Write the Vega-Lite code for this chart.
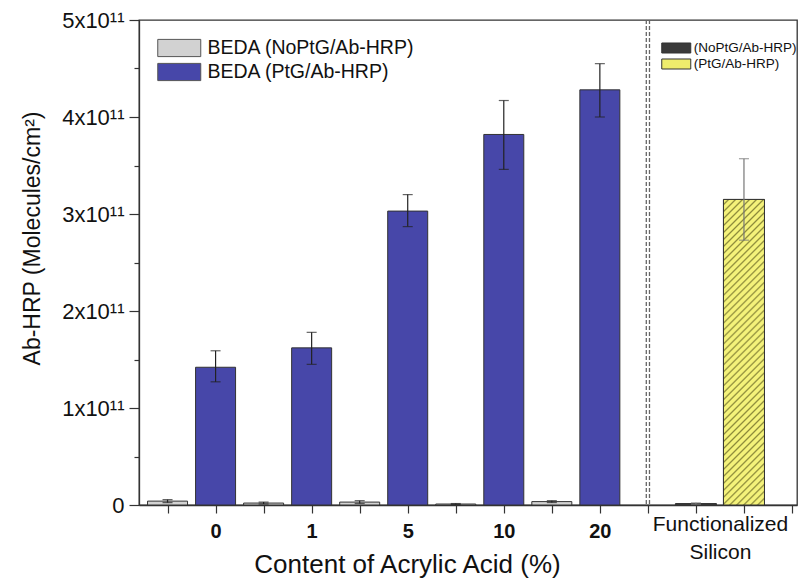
{
  "$schema": "https://vega.github.io/schema/vega-lite/v6.json",
  "width": 658,
  "height": 485,
  "autosize": {"type": "none"},
  "padding": {"left": 139, "top": 20, "right": 5, "bottom": 74},
  "background": "white",
  "config": {
    "font": "Liberation Sans",
    "view": {"stroke": "#333", "strokeWidth": 1.3},
    "axis": {"grid": false, "domainColor": "#333", "tickColor": "#333", "labelColor": "#111", "titleColor": "#111", "domainWidth": 1.3, "tickWidth": 1.2}
  },
  "datasets": {
    "beda": [
      {"pos": 0, "series": "BEDA (NoPtG/Ab-HRP)", "value": 4e9, "lo": 2.5e9, "hi": 5.5e9},
      {"pos": 1, "series": "BEDA (PtG/Ab-HRP)", "value": 1.42e11, "lo": 1.27e11, "hi": 1.59e11},
      {"pos": 2, "series": "BEDA (NoPtG/Ab-HRP)", "value": 2e9, "lo": 1e9, "hi": 3e9},
      {"pos": 3, "series": "BEDA (PtG/Ab-HRP)", "value": 1.62e11, "lo": 1.45e11, "hi": 1.78e11},
      {"pos": 4, "series": "BEDA (NoPtG/Ab-HRP)", "value": 3e9, "lo": 1.5e9, "hi": 4.5e9},
      {"pos": 5, "series": "BEDA (PtG/Ab-HRP)", "value": 3.03e11, "lo": 2.87e11, "hi": 3.2e11},
      {"pos": 6, "series": "BEDA (NoPtG/Ab-HRP)", "value": 1e9, "lo": 0.5e9, "hi": 1.5e9},
      {"pos": 7, "series": "BEDA (PtG/Ab-HRP)", "value": 3.82e11, "lo": 3.46e11, "hi": 4.17e11},
      {"pos": 8, "series": "BEDA (NoPtG/Ab-HRP)", "value": 3.5e9, "lo": 2.5e9, "hi": 4.5e9},
      {"pos": 9, "series": "BEDA (PtG/Ab-HRP)", "value": 4.28e11, "lo": 4.0e11, "hi": 4.55e11}
    ],
    "silicon": [
      {"pos": 11, "series": "(NoPtG/Ab-HRP)", "value": 1.5e9, "lo": 0.8e9, "hi": 2.2e9},
      {"pos": 12, "series": "(PtG/Ab-HRP)", "value": 3.15e11, "lo": 2.73e11, "hi": 3.57e11}
    ]
  },
  "layer": [
    {
      "data": {"name": "beda"},
      "mark": {"type": "bar", "size": 40, "stroke": "#333", "strokeWidth": 1},
      "encoding": {
        "x": {
          "field": "pos", "type": "quantitative", "title": "Content of Acrylic Acid (%)",
          "scale": {"domain": [-0.49, 13], "nice": false, "zero": false},
          "axis": {
            "values": [0, 1, 2, 3, 4, 5, 6, 7, 8, 9, 10, 11, 11.5, 12, 13],
            "labelExpr": "datum.value == 1 ? '0' : datum.value == 3 ? '1' : datum.value == 5 ? '5' : datum.value == 7 ? '10' : datum.value == 9 ? '20' : datum.value == 11.5 ? ['Functionalized', 'Silicon'] : ''",
            "labelOverlap": false, "labelFlush": false, "labelBound": false,
            "labelFontSize": {"condition": {"test": "datum.value == 11.5", "value": 21}, "value": 20},
            "labelFontWeight": {"condition": {"test": "datum.value == 11.5", "value": "normal"}, "value": "bold"},
            "labelLineHeight": 28,
            "labelPadding": 8,
            "tickSize": {"condition": {"test": "datum.value == 11.5", "value": 0}, "value": 8},
            "titleFontSize": 26, "titleFontWeight": "normal",
            "titleX": 268, "titleY": 67, "titleAlign": "center", "titleBaseline": "alphabetic"
          }
        },
        "y": {
          "field": "value", "type": "quantitative", "title": "Ab-HRP (Molecules/cm²)",
          "scale": {"domain": [0, 5e11], "nice": false},
          "axis": {
            "values": [0, 5e10, 1e11, 1.5e11, 2e11, 2.5e11, 3e11, 3.5e11, 4e11, 4.5e11, 5e11],
            "labelExpr": "datum.value % 1e11 != 0 ? '' : datum.value == 0 ? '0' : format(datum.value / 1e11, 'd') + 'x10¹¹'",
            "labelFontSize": 22, "labelPadding": 5,
            "tickSize": {"condition": {"test": "datum.value % 1e11 != 0", "value": 5}, "value": 10},
            "titleFontSize": 23, "titleFontWeight": "normal",
            "titleAngle": -90, "titleX": -100, "titleY": 218, "titleAlign": "center", "titleBaseline": "alphabetic"
          }
        },
        "color": {
          "field": "series", "type": "nominal",
          "scale": {"domain": ["BEDA (NoPtG/Ab-HRP)", "BEDA (PtG/Ab-HRP)"], "range": ["#d2d2d2", "#4747a9"]},
          "legend": {
            "orient": "none", "legendX": 28.75, "legendY": 16.5, "title": null,
            "symbolType": "M-2,-0.8H2V0.8H-2Z", "symbolSize": 462.25,
            "symbolStrokeColor": "#555", "symbolStrokeWidth": 1, "symbolOpacity": 1,
            "labelFontSize": 19.5, "labelColor": "#111", "labelOffset": 16.75, "labelLimit": 0, "rowPadding": 1
          }
        }
      }
    },
    {
      "data": {"name": "silicon"},
      "mark": {"type": "bar", "size": 41, "stroke": "#333", "strokeWidth": 1},
      "encoding": {
        "x": {"field": "pos", "type": "quantitative", "title": "Content of Acrylic Acid (%)"},
        "y": {"field": "value", "type": "quantitative", "title": "Ab-HRP (Molecules/cm²)"},
        "fill": {
          "field": "series", "type": "nominal",
          "scale": {"domain": ["(NoPtG/Ab-HRP)", "(PtG/Ab-HRP)"], "range": ["#3a3a3a", "#eeec6c"]},
          "legend": {
            "orient": "none", "legendX": 529.25, "legendY": 20, "title": null,
            "symbolType": "M-2,-0.69H2V0.69H-2Z", "symbolSize": 210.25,
            "symbolStrokeColor": "#333", "symbolStrokeWidth": 1, "symbolOpacity": 1,
            "labelFontSize": 13.5, "labelColor": "#111", "labelOffset": 9.5, "labelLimit": 0, "rowPadding": -2
          }
        }
      }
    },
    {
      "data": {"name": "silicon"},
      "transform": [{"filter": "datum.pos == 12"}],
      "mark": {
        "type": "bar", "size": 41, "stroke": "#333", "strokeWidth": 1,
        "fill": {
          "gradient": "linear", "x1": 0, "y1": 0, "x2": 0.15, "y2": 1.12,
          "stops": [
            {"offset": 0, "color": "#f4f27a"}, {"offset": 0.01, "color": "#f4f27a"}, {"offset": 0.015, "color": "#8c8a3a"},
            {"offset": 0.02, "color": "#f4f27a"}, {"offset": 0.03, "color": "#f4f27a"}, {"offset": 0.035, "color": "#8c8a3a"},
            {"offset": 0.04, "color": "#f4f27a"}, {"offset": 0.05, "color": "#f4f27a"}, {"offset": 0.055, "color": "#8c8a3a"},
            {"offset": 0.06, "color": "#f4f27a"}, {"offset": 0.07, "color": "#f4f27a"}, {"offset": 0.075, "color": "#8c8a3a"},
            {"offset": 0.08, "color": "#f4f27a"}, {"offset": 0.09, "color": "#f4f27a"}, {"offset": 0.095, "color": "#8c8a3a"},
            {"offset": 0.10, "color": "#f4f27a"}, {"offset": 0.11, "color": "#f4f27a"}, {"offset": 0.115, "color": "#8c8a3a"},
            {"offset": 0.12, "color": "#f4f27a"}, {"offset": 0.13, "color": "#f4f27a"}, {"offset": 0.135, "color": "#8c8a3a"},
            {"offset": 0.14, "color": "#f4f27a"}, {"offset": 0.15, "color": "#f4f27a"}, {"offset": 0.155, "color": "#8c8a3a"},
            {"offset": 0.16, "color": "#f4f27a"}, {"offset": 0.17, "color": "#f4f27a"}, {"offset": 0.175, "color": "#8c8a3a"},
            {"offset": 0.18, "color": "#f4f27a"}, {"offset": 0.19, "color": "#f4f27a"}, {"offset": 0.195, "color": "#8c8a3a"},
            {"offset": 0.20, "color": "#f4f27a"}, {"offset": 0.21, "color": "#f4f27a"}, {"offset": 0.215, "color": "#8c8a3a"},
            {"offset": 0.22, "color": "#f4f27a"}, {"offset": 0.23, "color": "#f4f27a"}, {"offset": 0.235, "color": "#8c8a3a"},
            {"offset": 0.24, "color": "#f4f27a"}, {"offset": 0.25, "color": "#f4f27a"}, {"offset": 0.255, "color": "#8c8a3a"},
            {"offset": 0.26, "color": "#f4f27a"}, {"offset": 0.27, "color": "#f4f27a"}, {"offset": 0.275, "color": "#8c8a3a"},
            {"offset": 0.28, "color": "#f4f27a"}, {"offset": 0.29, "color": "#f4f27a"}, {"offset": 0.295, "color": "#8c8a3a"},
            {"offset": 0.30, "color": "#f4f27a"}, {"offset": 0.31, "color": "#f4f27a"}, {"offset": 0.315, "color": "#8c8a3a"},
            {"offset": 0.32, "color": "#f4f27a"}, {"offset": 0.33, "color": "#f4f27a"}, {"offset": 0.335, "color": "#8c8a3a"},
            {"offset": 0.34, "color": "#f4f27a"}, {"offset": 0.35, "color": "#f4f27a"}, {"offset": 0.355, "color": "#8c8a3a"},
            {"offset": 0.36, "color": "#f4f27a"}, {"offset": 0.37, "color": "#f4f27a"}, {"offset": 0.375, "color": "#8c8a3a"},
            {"offset": 0.38, "color": "#f4f27a"}, {"offset": 0.39, "color": "#f4f27a"}, {"offset": 0.395, "color": "#8c8a3a"},
            {"offset": 0.40, "color": "#f4f27a"}, {"offset": 0.41, "color": "#f4f27a"}, {"offset": 0.415, "color": "#8c8a3a"},
            {"offset": 0.42, "color": "#f4f27a"}, {"offset": 0.43, "color": "#f4f27a"}, {"offset": 0.435, "color": "#8c8a3a"},
            {"offset": 0.44, "color": "#f4f27a"}, {"offset": 0.45, "color": "#f4f27a"}, {"offset": 0.455, "color": "#8c8a3a"},
            {"offset": 0.46, "color": "#f4f27a"}, {"offset": 0.47, "color": "#f4f27a"}, {"offset": 0.475, "color": "#8c8a3a"},
            {"offset": 0.48, "color": "#f4f27a"}, {"offset": 0.49, "color": "#f4f27a"}, {"offset": 0.495, "color": "#8c8a3a"},
            {"offset": 0.50, "color": "#f4f27a"}, {"offset": 0.51, "color": "#f4f27a"}, {"offset": 0.515, "color": "#8c8a3a"},
            {"offset": 0.52, "color": "#f4f27a"}, {"offset": 0.53, "color": "#f4f27a"}, {"offset": 0.535, "color": "#8c8a3a"},
            {"offset": 0.54, "color": "#f4f27a"}, {"offset": 0.55, "color": "#f4f27a"}, {"offset": 0.555, "color": "#8c8a3a"},
            {"offset": 0.56, "color": "#f4f27a"}, {"offset": 0.57, "color": "#f4f27a"}, {"offset": 0.575, "color": "#8c8a3a"},
            {"offset": 0.58, "color": "#f4f27a"}, {"offset": 0.59, "color": "#f4f27a"}, {"offset": 0.595, "color": "#8c8a3a"},
            {"offset": 0.60, "color": "#f4f27a"}, {"offset": 0.61, "color": "#f4f27a"}, {"offset": 0.615, "color": "#8c8a3a"},
            {"offset": 0.62, "color": "#f4f27a"}, {"offset": 0.63, "color": "#f4f27a"}, {"offset": 0.635, "color": "#8c8a3a"},
            {"offset": 0.64, "color": "#f4f27a"}, {"offset": 0.65, "color": "#f4f27a"}, {"offset": 0.655, "color": "#8c8a3a"},
            {"offset": 0.66, "color": "#f4f27a"}, {"offset": 0.67, "color": "#f4f27a"}, {"offset": 0.675, "color": "#8c8a3a"},
            {"offset": 0.68, "color": "#f4f27a"}, {"offset": 0.69, "color": "#f4f27a"}, {"offset": 0.695, "color": "#8c8a3a"},
            {"offset": 0.70, "color": "#f4f27a"}, {"offset": 0.71, "color": "#f4f27a"}, {"offset": 0.715, "color": "#8c8a3a"},
            {"offset": 0.72, "color": "#f4f27a"}, {"offset": 0.73, "color": "#f4f27a"}, {"offset": 0.735, "color": "#8c8a3a"},
            {"offset": 0.74, "color": "#f4f27a"}, {"offset": 0.75, "color": "#f4f27a"}, {"offset": 0.755, "color": "#8c8a3a"},
            {"offset": 0.76, "color": "#f4f27a"}, {"offset": 0.77, "color": "#f4f27a"}, {"offset": 0.775, "color": "#8c8a3a"},
            {"offset": 0.78, "color": "#f4f27a"}, {"offset": 0.79, "color": "#f4f27a"}, {"offset": 0.795, "color": "#8c8a3a"},
            {"offset": 0.80, "color": "#f4f27a"}, {"offset": 0.81, "color": "#f4f27a"}, {"offset": 0.815, "color": "#8c8a3a"},
            {"offset": 0.82, "color": "#f4f27a"}, {"offset": 0.83, "color": "#f4f27a"}, {"offset": 0.835, "color": "#8c8a3a"},
            {"offset": 0.84, "color": "#f4f27a"}, {"offset": 0.85, "color": "#f4f27a"}, {"offset": 0.855, "color": "#8c8a3a"},
            {"offset": 0.86, "color": "#f4f27a"}, {"offset": 0.87, "color": "#f4f27a"}, {"offset": 0.875, "color": "#8c8a3a"},
            {"offset": 0.88, "color": "#f4f27a"}, {"offset": 0.89, "color": "#f4f27a"}, {"offset": 0.895, "color": "#8c8a3a"},
            {"offset": 0.90, "color": "#f4f27a"}, {"offset": 0.91, "color": "#f4f27a"}, {"offset": 0.915, "color": "#8c8a3a"},
            {"offset": 0.92, "color": "#f4f27a"}, {"offset": 0.93, "color": "#f4f27a"}, {"offset": 0.935, "color": "#8c8a3a"},
            {"offset": 0.94, "color": "#f4f27a"}, {"offset": 0.95, "color": "#f4f27a"}, {"offset": 0.955, "color": "#8c8a3a"},
            {"offset": 0.96, "color": "#f4f27a"}, {"offset": 0.97, "color": "#f4f27a"}, {"offset": 0.975, "color": "#8c8a3a"},
            {"offset": 0.98, "color": "#f4f27a"}, {"offset": 0.99, "color": "#f4f27a"}, {"offset": 0.995, "color": "#8c8a3a"},
            {"offset": 1, "color": "#f4f27a"}
          ]
        }
      },
      "encoding": {
        "x": {"field": "pos", "type": "quantitative", "title": "Content of Acrylic Acid (%)"},
        "y": {"field": "value", "type": "quantitative", "title": "Ab-HRP (Molecules/cm²)"}
      }
    },
    {
      "data": {"name": "beda"},
      "mark": {"type": "rule", "color": "#222", "strokeWidth": 1.2},
      "encoding": {
        "x": {"field": "pos", "type": "quantitative", "title": "Content of Acrylic Acid (%)"},
        "y": {"field": "lo", "type": "quantitative", "title": "Ab-HRP (Molecules/cm²)"},
        "y2": {"field": "hi"}
      }
    },
    {
      "data": {"name": "beda"},
      "mark": {"type": "tick", "orient": "horizontal", "size": 10, "thickness": 1.2, "color": "#222"},
      "encoding": {
        "x": {"field": "pos", "type": "quantitative", "title": "Content of Acrylic Acid (%)"},
        "y": {"field": "lo", "type": "quantitative", "title": "Ab-HRP (Molecules/cm²)"}
      }
    },
    {
      "data": {"name": "beda"},
      "mark": {"type": "tick", "orient": "horizontal", "size": 10, "thickness": 1.2, "color": "#222"},
      "encoding": {
        "x": {"field": "pos", "type": "quantitative", "title": "Content of Acrylic Acid (%)"},
        "y": {"field": "hi", "type": "quantitative", "title": "Ab-HRP (Molecules/cm²)"}
      }
    },
    {
      "data": {"name": "silicon"},
      "mark": {"type": "rule", "color": "#777", "strokeWidth": 1.2},
      "encoding": {
        "x": {"field": "pos", "type": "quantitative", "title": "Content of Acrylic Acid (%)"},
        "y": {"field": "lo", "type": "quantitative", "title": "Ab-HRP (Molecules/cm²)"},
        "y2": {"field": "hi"}
      }
    },
    {
      "data": {"name": "silicon"},
      "mark": {"type": "tick", "orient": "horizontal", "size": 10, "thickness": 1.2, "color": "#777"},
      "encoding": {
        "x": {"field": "pos", "type": "quantitative", "title": "Content of Acrylic Acid (%)"},
        "y": {"field": "lo", "type": "quantitative", "title": "Ab-HRP (Molecules/cm²)"}
      }
    },
    {
      "data": {"name": "silicon"},
      "mark": {"type": "tick", "orient": "horizontal", "size": 10, "thickness": 1.2, "color": "#777"},
      "encoding": {
        "x": {"field": "pos", "type": "quantitative", "title": "Content of Acrylic Acid (%)"},
        "y": {"field": "hi", "type": "quantitative", "title": "Ab-HRP (Molecules/cm²)"}
      }
    },
    {
      "data": {"values": [{}]},
      "mark": {"type": "rule", "color": "#666", "strokeWidth": 1.3, "strokeDash": [4, 2], "xOffset": -1.6},
      "encoding": {"x": {"datum": 10, "type": "quantitative", "title": "Content of Acrylic Acid (%)"}}
    },
    {
      "data": {"values": [{}]},
      "mark": {"type": "rule", "color": "#666", "strokeWidth": 1.3, "strokeDash": [4, 2], "xOffset": 1.6},
      "encoding": {"x": {"datum": 10, "type": "quantitative", "title": "Content of Acrylic Acid (%)"}}
    }
  ]
}
